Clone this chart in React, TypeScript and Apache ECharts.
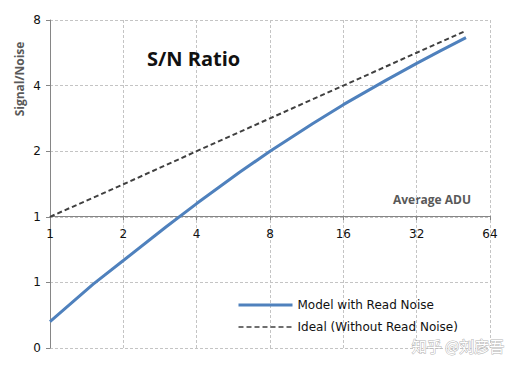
import React, { useEffect, useRef } from "react";
import * as echarts from "echarts";

const modelADU = [1, 1.5, 2, 3, 4, 6, 8, 12, 16, 24, 32, 40, 51];
const modelSN = [0.33, 0.49, 0.63, 0.9, 1.15, 1.6, 2.0, 2.68, 3.27, 4.24, 5.06, 5.77, 6.64];
const idealADU = [1, 2, 4, 8, 16, 32, 50];
const idealSN = [1, 1.41, 2, 2.83, 4, 5.66, 7.07];
const xMin = 1;
const xMax = 64;
const yMin = 0.25;
const yMax = 8;

export default function App() {
  const ref = useRef<HTMLDivElement>(null);
  useEffect(() => {
    if (!ref.current) return;
    const chart = echarts.init(ref.current, undefined, { renderer: "svg" });
    const font = "DejaVu Sans";
    chart.setOption({
      animation: false,
      backgroundColor: "#ffffff",
      grid: { left: 50, top: 20, right: 30, bottom: 19 },
      title: {
        text: "S/N Ratio",
        left: 142,
        top: 43,
        textStyle: { fontFamily: "Open Sans", fontWeight: "bold", fontSize: 20, color: "#111" },
      },
      legend: {
        orient: "vertical",
        left: 232,
        top: 294,
        itemWidth: 54,
        itemHeight: 14,
        itemGap: 10,
        itemStyle: { opacity: 0 },
        textStyle: { fontFamily: font, fontSize: 12, color: "#111" },
        data: [
          { name: "Model with Read Noise", lineStyle: { width: 3 } },
          { name: "Ideal (Without Read Noise)", lineStyle: { width: 1.5 } },
        ],
      },
      xAxis: {
        type: "log",
        logBase: 2,
        min: xMin,
        max: xMax,
        position: "bottom",
        offset: -132,
        axisLine: { lineStyle: { color: "#868686", width: 1 } },
        axisTick: { show: true, length: 4, lineStyle: { color: "#868686" } },
        axisLabel: { fontFamily: font, fontSize: 12, color: "#111", margin: 12 },
        splitLine: { show: true, lineStyle: { color: "#c4c4c4", type: [3, 2], width: 1 } },
      },
      yAxis: {
        type: "log",
        logBase: 2,
        min: yMin,
        max: yMax,
        axisLine: { show: true, lineStyle: { color: "#868686", width: 1 } },
        axisTick: { show: true, length: 4, lineStyle: { color: "#868686" } },
        axisLabel: {
          fontFamily: font,
          fontSize: 12,
          color: "#111",
          margin: 9,
          formatter: (v: number) => String(Math.round(v)),
        },
        splitLine: { show: true, lineStyle: { color: "#c4c4c4", type: [3, 2], width: 1 } },
      },
      graphic: [
        {
          type: "text",
          x: 19,
          y: 79,
          rotation: Math.PI / 2,
          style: {
            text: "Signal/Noise",
            fill: "#595959",
            font: "bold 12px 'Open Sans'",
            align: "center",
            verticalAlign: "middle",
          },
        },
        {
          type: "text",
          x: 432,
          y: 199,
          style: {
            text: "Average ADU",
            fill: "#595959",
            font: "bold 12px 'Open Sans'",
            align: "center",
            verticalAlign: "middle",
          },
        },
        {
          type: "text",
          x: 458,
          y: 345,
          z: 100,
          style: {
            text: "知乎 @刘彦吾",
            fill: "#ffffff",
            stroke: "#b5b5b5",
            lineWidth: 1,
            font: "15px 'Noto Sans CJK SC'",
            align: "center",
            verticalAlign: "middle",
          },
        },
      ],
      series: [
        {
          name: "Model with Read Noise",
          type: "line",
          symbol: "none",
          data: modelADU.map((x, i) => [x, modelSN[i]]),
          lineStyle: { color: "#4f81bd", width: 3 },
          itemStyle: { color: "#4f81bd" },
          z: 3,
        },
        {
          name: "Ideal (Without Read Noise)",
          type: "line",
          symbol: "none",
          data: idealADU.map((x, i) => [x, idealSN[i]]),
          lineStyle: { color: "#404040", width: 2, type: [5, 3] },
          itemStyle: { color: "#404040" },
          z: 2,
        },
      ],
    });
    return () => chart.dispose();
  }, []);
  return <div ref={ref} style={{ width: 520, height: 367, position: "absolute", left: 0, top: 0 }} />;
}
